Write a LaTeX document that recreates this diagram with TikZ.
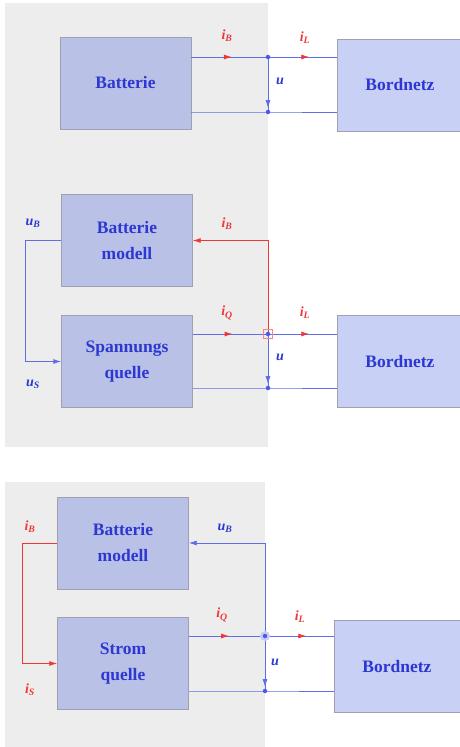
\documentclass[tikz,border=0pt]{standalone}
\usepackage{fontspec}
\setmainfont{Liberation Serif}
\usetikzlibrary{arrows.meta,decorations.markings,positioning}

\definecolor{hintergrund}{RGB}{237,237,237}
\definecolor{blockfarbe}{RGB}{186,193,230}
\definecolor{netzfarbe}{RGB}{200,208,245}
\definecolor{rahmen}{RGB}{160,160,178}
\definecolor{schrift}{RGB}{45,55,210}
\definecolor{leitung}{RGB}{95,110,230}
\definecolor{strom}{RGB}{240,55,55}

\newcommand{\grs}[2]{#1\textsubscript{#2}}

\tikzset{
  block/.style={draw=rahmen, fill=blockfarbe, minimum width=131pt, minimum height=92pt,
    align=center, text=schrift, inner sep=0pt, font=\fontsize{17.5}{26}\selectfont\bfseries},
  netz/.style={block, fill=netzfarbe, minimum width=126pt},
  leiter/.style={draw=leitung, line width=0.9pt},
  stromleiter/.style={draw=strom, line width=0.9pt},
  spitze/.style={-{Latex[length=8pt,width=5pt]}},
  ipfeil/.style={postaction={decorate}, decoration={markings,
    mark=at position #1 with {\arrow[color=strom]{Latex[length=8pt,width=5pt]}}}},
  upfeil/.style={postaction={decorate}, decoration={markings,
    mark=at position #1 with {\arrow[color=leitung]{Latex[length=8pt,width=5pt]}}}},
  ilbl/.style={text=strom, inner sep=0pt, font=\fontsize{14}{16}\selectfont\bfseries\itshape},
  ulbl/.style={ilbl, text=schrift},
  knoten/.style={circle, fill=leitung!80!blue, inner sep=0pt, minimum size=4.5pt}
}

\begin{document}
\begin{tikzpicture}[x=1pt,y=-1pt]
  % Hintergrund
  \useasboundingbox (0,0) rectangle (459,747);
  \fill[hintergrund] (5,3) rectangle (268,447);
  \fill[hintergrund] (5,482) rectangle (265,747);

  % Oben: Batterie direkt am Bordnetz
  \node[block] (batt1) at (125.5,83) {Batterie};
  \node[netz] (netz1) at (400,85) {Bordnetz};
  \coordinate (j1) at (268,57);
  \coordinate (k1) at (268,112);
  \draw[leiter, ipfeil=0.53] (batt1.east |- j1) -- (j1);
  \draw[leiter, ipfeil=0.6] (j1) -- (netz1.west |- j1);
  \draw[leiter] (batt1.east |- k1) -- (k1) -- (netz1.west |- k1);
  \draw[leiter, upfeil=0.93] (j1) -- (k1);
  \node[knoten] (p1) at (j1) {};
  \node[knoten] (q1) at (k1) {};
  \node[ilbl] (ib1) at (227,36) {\grs{i}{B}};
  \node[ilbl] (il1) at (305,38) {\grs{i}{L}};
  \node[ulbl] (u1) at (280,81) {u};

  % Mitte: Batteriemodell mit Spannungsquelle
  \node[block] (bm2) at (127,240.5) {Batterie\\modell};
  \node[block] (sq2) at (127,361.5) {Spannungs\\quelle};
  \node[netz] (netz2) at (400,361.5) {Bordnetz};
  \coordinate (j2) at (268,334);
  \coordinate (k2) at (268,388);
  \coordinate (r2) at (25,300);
  \draw[leiter, ipfeil=0.53] (sq2.east |- j2) -- (j2);
  \draw[leiter, ipfeil=0.6] (j2) -- (netz2.west |- j2);
  \draw[leiter] (sq2.east |- k2) -- (k2) -- (netz2.west |- k2);
  \draw[leiter, upfeil=0.93] (j2) -- (k2);
  \draw[leiter, spitze] (bm2.west) -- (bm2.west -| r2) |- (sq2.west);
  \draw[stromleiter, spitze] (j2) |- (bm2.east);
  \node[knoten] (p2) at (j2) {};
  \draw[strom!60, line width=0.6pt] (263.5,329.5) rectangle (272.5,338.5);
  \node[knoten] (q2) at (k2) {};
  \node[ilbl] (ib2) at (227,224) {\grs{i}{B}};
  \node[ilbl] (iq2) at (227,313) {\grs{i}{Q}};
  \node[ilbl] (il2) at (305,313) {\grs{i}{L}};
  \node[ulbl] (u2) at (280,357) {u};
  \node[ulbl] (ub2) at (33,223) {\grs{u}{B}};
  \node[ulbl] (us2) at (33,384) {\grs{u}{S}};

  % Unten: Batteriemodell mit Stromquelle
  \node[block] (bm3) at (123,543) {Batterie\\modell};
  \node[block] (sq3) at (123,663.5) {Strom\\quelle};
  \node[netz] (netz3) at (397,666.5) {Bordnetz};
  \coordinate (j3) at (265,636);
  \coordinate (k3) at (265,691);
  \coordinate (r3) at (22,600);
  \draw[leiter, ipfeil=0.53] (sq3.east |- j3) -- (j3);
  \draw[leiter, ipfeil=0.6] (j3) -- (netz3.west |- j3);
  \draw[leiter] (sq3.east |- k3) -- (k3) -- (netz3.west |- k3);
  \draw[leiter, upfeil=0.93] (j3) -- (k3);
  \draw[stromleiter, spitze] (bm3.west) -- (bm3.west -| r3) |- (sq3.west);
  \draw[leiter, spitze] (j3) |- (bm3.east);
  \fill[leitung!35] (j3) circle (5pt);
  \node[knoten] (p3) at (j3) {};
  \node[knoten] (q3) at (k3) {};
  \node[ulbl] (ub3) at (225,528) {\grs{u}{B}};
  \node[ilbl] (iq3) at (222,615) {\grs{i}{Q}};
  \node[ilbl] (il3) at (300,617) {\grs{i}{L}};
  \node[ulbl] (u3) at (275,662) {u};
  \node[ilbl] (ib3) at (30,527) {\grs{i}{B}};
  \node[ilbl] (is3) at (30,690) {\grs{i}{S}};
\end{tikzpicture}
\end{document}
